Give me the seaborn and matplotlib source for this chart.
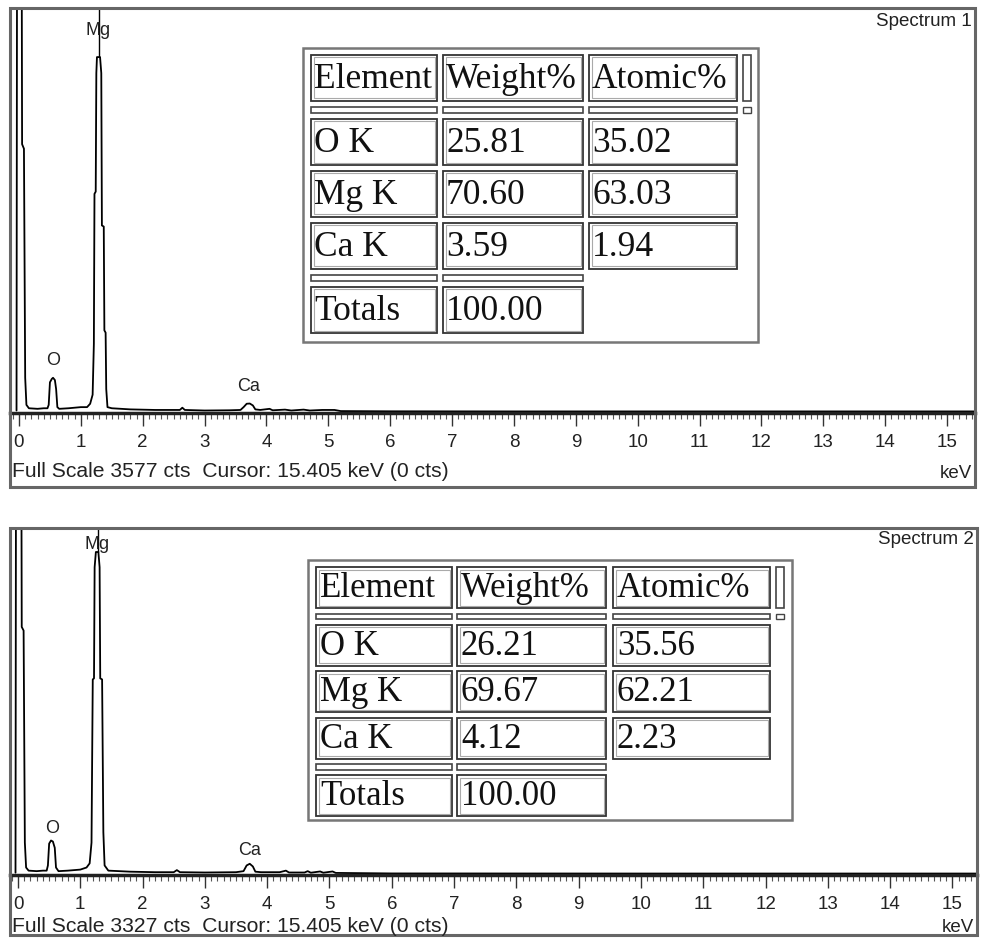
import matplotlib
matplotlib.use("Agg")
import numpy as np
import pandas as pd
import matplotlib.pyplot as plt
import seaborn as sns
from matplotlib.patches import Rectangle
from matplotlib.ticker import MultipleLocator

# ---------------- data ----------------
s1_energy = [-0.04, -0.03, 0.04, 0.05, 0.08, 0.10, 0.12, 0.16, 0.30, 0.40, 0.46, 0.48, 0.50,
             0.53, 0.55, 0.58, 0.60, 0.62, 0.65, 0.80, 1.00, 1.10, 1.15, 1.19, 1.21, 1.22,
             1.24, 1.25, 1.26, 1.31, 1.33, 1.34, 1.37, 1.38, 1.40, 1.41, 1.43, 1.50, 1.80,
             2.20, 2.60, 2.64, 2.68, 3.00, 3.40, 3.58, 3.63, 3.68, 3.73, 3.78, 3.82, 3.90,
             4.05, 4.10, 4.30, 4.40, 4.60, 4.70, 4.90, 5.10, 5.20, 6.00, 8.00, 10.0, 12.0, 15.5]
s1_counts = [10, 5000, 5000, 2370, 2330, 300, 60, 30, 25, 30, 30, 60, 260,
             290, 300, 280, 200, 40, 25, 30, 40, 40, 70, 150, 600, 1930,
             1950, 3000, 3142, 3142, 3000, 1650, 1640, 720, 700, 200, 40, 30, 20,
             15, 15, 35, 15, 10, 12, 15, 40, 70, 72, 55, 20, 15,
             25, 12, 18, 10, 18, 10, 15, 15, 5, 3, 2, 2, 2, 2]

s2_energy = [-0.04, -0.03, 0.05, 0.06, 0.09, 0.11, 0.13, 0.17, 0.30, 0.40, 0.46, 0.48, 0.50,
             0.53, 0.56, 0.59, 0.61, 0.65, 0.80, 1.00, 1.10, 1.15, 1.18, 1.20, 1.22, 1.23,
             1.25, 1.29, 1.31, 1.32, 1.35, 1.37, 1.39, 1.45, 1.80, 2.20, 2.50, 2.55, 2.60,
             3.00, 3.50, 3.62, 3.67, 3.72, 3.77, 3.81, 3.90, 4.20, 4.30, 4.35, 4.60, 4.65,
             4.70, 4.85, 4.90, 5.05, 5.10, 6.00, 10.0, 15.5]
s2_counts = [10, 5000, 5000, 2375, 2340, 300, 60, 30, 25, 30, 30, 80, 290,
             320, 310, 250, 60, 25, 30, 40, 60, 100, 300, 1870, 1880, 2950,
             3096, 3096, 2950, 1880, 1870, 400, 80, 30, 20, 15, 15, 35, 15,
             12, 15, 25, 80, 96, 70, 20, 15, 15, 30, 12, 12, 25,
             10, 22, 10, 22, 8, 3, 2, 2]

full_scale = [3577, 3327]
spectrum_names = ["Spectrum 1", "Spectrum 2"]
footer_texts = ["Full Scale 3577 cts  Cursor: 15.405 keV (0 cts)",
                "Full Scale 3327 cts  Cursor: 15.405 keV (0 cts)"]
peak_labels = ["O", "Mg", "Ca"]
peak_label_energy = [0.55, 1.27, 3.71]
s1_label_counts = [453, 3382, 222]
s2_label_counts = [433, 3173, 221]
mg_marker_energy = 1.29
tick_values = list(range(0, 16))

table_header = ["Element", "Weight%", "Atomic%"]
table_elements = ["O K", "Mg K", "Ca K"]
s1_weight = ["25.81", "70.60", "3.59"]
s1_atomic = ["35.02", "63.03", "1.94"]
s2_weight = ["26.21", "69.67", "4.12"]
s2_atomic = ["35.56", "62.21", "2.23"]
totals_label = "Totals"
s1_total = "100.00"
s2_total = "100.00"

# ---------------- style ----------------
sns.set_style("white")
plt.rcParams["font.family"] = ["Liberation Sans", "DejaVu Sans"]

W, H = 985, 938
fig = plt.figure(figsize=(W / 100, H / 100), dpi=100)
fig.patch.set_facecolor("white")


def fx(px):
    return px / W


def fy(py):
    return 1 - py / H


def prect(x0, y0, x1, y1, **kw):
    r = Rectangle((fx(x0), fy(y1)), (x1 - x0) / W, (y1 - y0) / H,
                  transform=fig.transFigure, fill=False, **kw)
    fig.add_artist(r)


panels = [
    dict(energy=s1_energy, counts=s1_counts, fs=full_scale[0], name=spectrum_names[0],
         footer=footer_texts[0], lab=s1_label_counts, mg_top=3142,
         ax_px=(10, 8, 975, 413), frame=(10, 8, 975, 487), x0=19, k=61.87,
         name_y=22, footer_y=471, kev_y=473,
         table=dict(outer=(303, 48, 758, 342), cx=[311, 443, 589], cw=[126, 140, 148],
                    sb=(743, 8), y0=55, rh=46, gap=6, sep=6, fs=25.5, pad=3),
         weight=s1_weight, atomic=s1_atomic, total=s1_total),
    dict(energy=s2_energy, counts=s2_counts, fs=full_scale[1], name=spectrum_names[1],
         footer=footer_texts[1], lab=s2_label_counts, mg_top=3096,
         ax_px=(10, 528, 977, 875), frame=(10, 528, 977, 935), x0=18, k=62.3,
         name_y=540, footer_y=926, kev_y=927,
         table=dict(outer=(308, 560, 792, 820), cx=[316, 457, 613], cw=[136, 149, 157],
                    sb=(776, 8), y0=567, rh=41, gap=5.5, sep=5.5, fs=25, pad=4),
         weight=s2_weight, atomic=s2_atomic, total=s2_total),
]

for p in panels:
    l, t, r, b = p["ax_px"]
    ax = fig.add_axes([fx(l), fy(b), (r - l) / W, (b - t) / H])
    ax.set_facecolor("white")
    df = pd.DataFrame({"energy": p["energy"], "counts": p["counts"]})
    sns.lineplot(data=df, x="energy", y="counts", ax=ax, sort=False, estimator=None,
                 color="black", linewidth=1.3)
    ax.vlines(mg_marker_energy, p["mg_top"], p["fs"] * 1.05, color="black", linewidth=1.0)
    xmin = (l - p["x0"]) / p["k"]
    xmax = (r - p["x0"]) / p["k"]
    ax.set_xlim(xmin, xmax)
    ax.set_ylim(-12, p["fs"])
    ax.set_xlabel("")
    ax.set_ylabel("")
    ax.set_yticks([])
    ax.set_xticks(tick_values)
    ax.set_xticklabels([str(v) for v in tick_values], fontsize=13.5, color="#222222")
    ax.xaxis.set_minor_locator(MultipleLocator(0.1))
    ax.tick_params(axis="x", which="major", direction="out", length=9, width=1.0,
                   pad=6, color="#333333", bottom=True)
    ax.tick_params(axis="x", which="minor", direction="out", length=4, width=0.8,
                   color="#555555", bottom=True)
    for s in ["left", "top", "right"]:
        ax.spines[s].set_visible(False)
    ax.spines["bottom"].set_linewidth(2.5)
    ax.spines["bottom"].set_color("#222222")

    for lab, e, c in zip(peak_labels, peak_label_energy, p["lab"]):
        ax.text(e, c, lab, ha="center", va="center", fontsize=13, color="#222222")

    # frame
    fl, ft, fr, fb = p["frame"]
    prect(fl, ft, fr, fb, edgecolor="#666666", linewidth=2.2)
    fig.text(fx(fr - 3), fy(p["name_y"]), p["name"], ha="right", va="center",
             fontsize=13.5, color="#222222")
    fig.text(fx(fl + 2), fy(p["footer_y"]), p["footer"], ha="left", va="center",
             fontsize=15.2, color="#222222")
    fig.text(fx(fr - 3), fy(p["kev_y"]), "keV", ha="right", va="center",
             fontsize=13.5, color="#222222")

    # table
    tb = p["table"]
    ox0, oy0, ox1, oy1 = tb["outer"]
    prect(ox0, oy0, ox1, oy1, edgecolor="#777777", linewidth=1.8)
    rows = [("row", table_header),
            ("sep", 3),
            ("row", [table_elements[0], p["weight"][0], p["atomic"][0]]),
            ("row", [table_elements[1], p["weight"][1], p["atomic"][1]]),
            ("row", [table_elements[2], p["weight"][2], p["atomic"][2]]),
            ("sep", 2),
            ("row", [totals_label, p["total"]])]
    y = tb["y0"]
    for i, (kind, content) in enumerate(rows):
        if kind == "sep":
            h = tb["sep"]
            for j in range(content):
                x0 = tb["cx"][j]
                prect(x0, y, x0 + tb["cw"][j], y + h, edgecolor="#444444", linewidth=1.2)
            if i == 1:
                sbx, sbw = tb["sb"]
                prect(sbx, y, sbx + sbw, y + h, edgecolor="#444444", linewidth=1.0)
        else:
            h = tb["rh"]
            for j, txt in enumerate(content):
                x0 = tb["cx"][j]
                prect(x0, y, x0 + tb["cw"][j], y + h, edgecolor="#333333", linewidth=1.3)
                prect(x0 + 2.5, y + 2.5, x0 + tb["cw"][j] - 2.5, y + h - 2.5,
                      edgecolor="#aaaaaa", linewidth=0.8)
                fig.text(fx(x0 + tb["pad"]), fy(y + h / 2 + 1), txt, ha="left", va="center",
                         fontsize=tb["fs"], family=["Liberation Serif", "DejaVu Serif"],
                         color="#111111")
            if i == 0:
                sbx, sbw = tb["sb"]
                prect(sbx, y, sbx + sbw, y + h, edgecolor="#444444", linewidth=1.2)
        y += h + tb["gap"]

fig.savefig("out.png", dpi=100, facecolor="white")
